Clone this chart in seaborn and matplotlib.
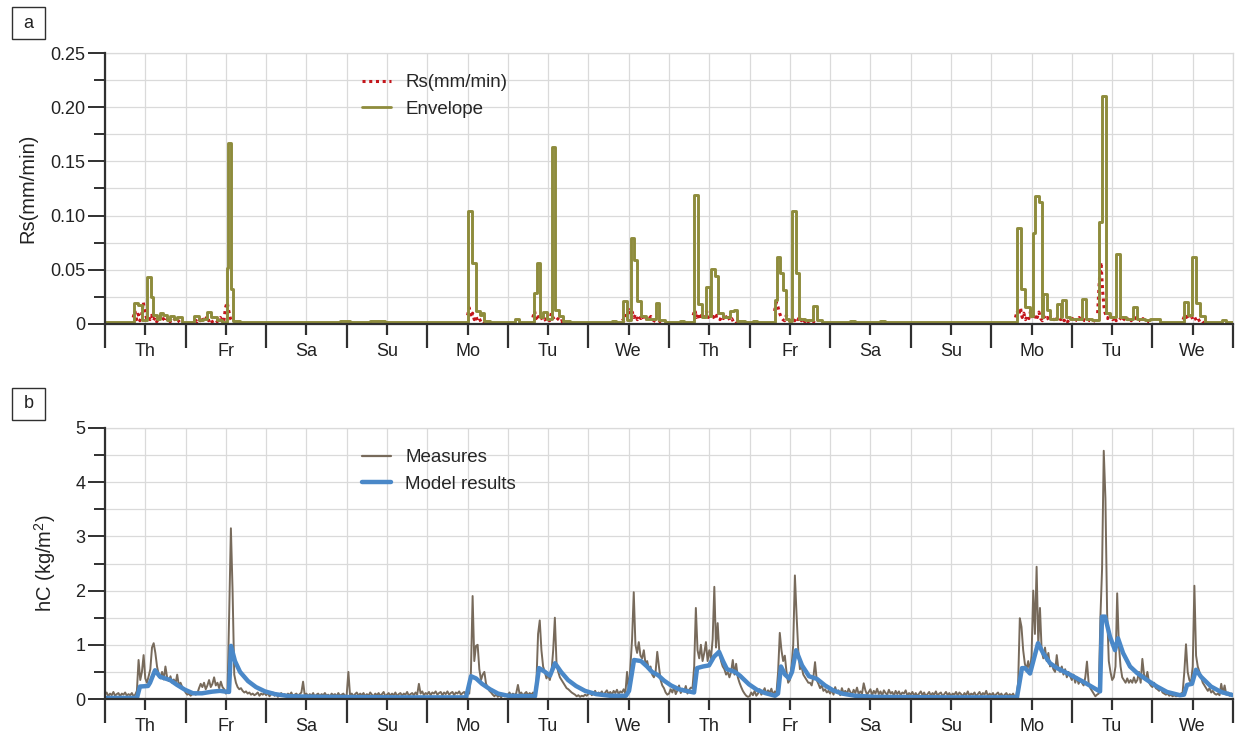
import numpy as np
import pandas as pd
import matplotlib
matplotlib.use("Agg")
import matplotlib.pyplot as plt
from matplotlib.lines import Line2D
from matplotlib.patches import Rectangle
import seaborn as sns

# ---------------------------------------------------------------- data
day_labels = ["Th", "Fr", "Sa", "Su", "Mo", "Tu", "We",
              "Th", "Fr", "Sa", "Su", "Mo", "Tu", "We"]

# Envelope of rain intensity: step starts (day) and step levels (mm/min)
env_day = [0.000, 0.360, 0.410, 0.459, 0.527, 0.565, 0.590, 0.645, 0.683, 0.720,
           0.770, 0.807, 0.856, 0.894, 0.956, 1.105, 1.167, 1.216, 1.266, 1.316,
           1.390, 1.452, 1.508, 1.527, 1.564, 1.589, 1.676, 1.924, 2.420, 2.480,
           2.917, 3.040, 3.290, 3.475, 4.505, 4.555, 4.605, 4.654, 4.673, 4.704,
           4.778, 5.089, 5.138, 5.325, 5.362, 5.399, 5.436, 5.486, 5.548, 5.591,
           5.635, 5.685, 5.771, 6.144, 6.293, 6.342, 6.429, 6.479, 6.529, 6.566,
           6.603, 6.653, 6.715, 6.839, 6.882, 6.950, 7.137, 7.186, 7.311, 7.360,
           7.410, 7.460, 7.503, 7.522, 7.565, 7.614, 7.670, 7.757, 7.807, 7.850,
           7.943, 8.043, 8.092, 8.316, 8.341, 8.378, 8.415, 8.453, 8.490, 8.527,
           8.577, 8.614, 8.688, 8.788, 8.831, 8.899, 9.247, 9.309, 9.619, 9.681,
           10.339, 10.488, 11.319, 11.369, 11.419, 11.481, 11.518, 11.543, 11.586, 11.630,
           11.642, 11.692, 11.729, 11.816, 11.866, 11.878, 11.928, 11.977, 12.126, 12.176,
           12.250, 12.337, 12.374, 12.424, 12.473, 12.548, 12.598, 12.672, 12.759, 12.809,
           12.908, 12.970, 13.094, 13.392, 13.442, 13.491, 13.541, 13.591, 13.653, 13.864,
           13.914, 14.000]
env_val = [0.0015, 0.019, 0.0175, 0.004, 0.043, 0.025, 0.008, 0.005, 0.010, 0.008,
           0.004, 0.007, 0.005, 0.006, 0.002, 0.007, 0.004, 0.005, 0.011, 0.006,
           0.004, 0.002, 0.052, 0.167, 0.032, 0.003, 0.002, 0.0015, 0.002, 0.0015,
           0.003, 0.0015, 0.0025, 0.0015, 0.104, 0.056, 0.012, 0.008, 0.010, 0.003,
           0.0015, 0.005, 0.002, 0.029, 0.056, 0.006, 0.011, 0.005, 0.163, 0.013,
           0.007, 0.003, 0.0015, 0.002, 0.003, 0.002, 0.021, 0.004, 0.079, 0.059,
           0.021, 0.007, 0.005, 0.019, 0.004, 0.002, 0.003, 0.0015, 0.119, 0.018,
           0.006, 0.034, 0.007, 0.0505, 0.044, 0.010, 0.006, 0.012, 0.013, 0.003,
           0.0015, 0.003, 0.0015, 0.022, 0.062, 0.047, 0.031, 0.005, 0.003, 0.104,
           0.047, 0.005, 0.004, 0.017, 0.004, 0.002, 0.003, 0.0015, 0.003, 0.0015,
           0.002, 0.0015, 0.0886, 0.032, 0.016, 0.007, 0.084, 0.118, 0.1125, 0.006,
           0.028, 0.013, 0.005, 0.018, 0.006, 0.022, 0.006, 0.005, 0.023, 0.005,
           0.004, 0.094, 0.2106, 0.010, 0.006, 0.0645, 0.006, 0.005, 0.016, 0.005,
           0.004, 0.005, 0.002, 0.020, 0.008, 0.062, 0.0195, 0.007, 0.002, 0.004,
           0.002, 0.002]

# Rain intensity Rs (mm/min) per rain event, half-hourly from the event start
rs_start_day = [0.35, 1.12, 4.50, 5.31, 6.42, 7.30, 8.31, 11.30, 12.32, 13.38]
rs_values = [
    [0.006, 0.012, 0.004, 0.009, 0.003, 0.008, 0.020, 0.011, 0.005, 0.007, 0.004, 0.008,
     0.003, 0.006, 0.002, 0.005, 0.007, 0.003, 0.005, 0.002, 0.004, 0.006, 0.002, 0.004,
     0.003, 0.005, 0.002, 0.003, 0.001],
    [0.004, 0.002, 0.005, 0.003, 0.006, 0.002, 0.004, 0.007, 0.003, 0.005, 0.002, 0.003,
     0.001, 0.002, 0.004, 0.006, 0.003, 0.002, 0.015, 0.020, 0.012, 0.005, 0.002],
    [0.008, 0.015, 0.006, 0.010, 0.004, 0.007, 0.003, 0.005, 0.002, 0.003, 0.001],
    [0.006, 0.012, 0.005, 0.009, 0.004, 0.006, 0.003, 0.005, 0.002, 0.004, 0.003, 0.010,
     0.006, 0.004, 0.003, 0.005, 0.002, 0.003, 0.001],
    [0.005, 0.003, 0.006, 0.012, 0.015, 0.008, 0.011, 0.006, 0.009, 0.004, 0.007, 0.005,
     0.008, 0.004, 0.006, 0.003, 0.005, 0.007, 0.004, 0.003, 0.002, 0.001, 0.002, 0.001],
    [0.008, 0.013, 0.006, 0.010, 0.005, 0.008, 0.004, 0.009, 0.012, 0.006, 0.010, 0.005,
     0.007, 0.004, 0.008, 0.006, 0.004, 0.007, 0.005, 0.009, 0.004, 0.006, 0.003, 0.005,
     0.002, 0.003, 0.001],
    [0.012, 0.020, 0.016, 0.010, 0.006, 0.004, 0.003, 0.008, 0.005, 0.003, 0.002, 0.004,
     0.003, 0.006, 0.004, 0.007, 0.003, 0.005, 0.002, 0.004, 0.002, 0.003, 0.001, 0.002,
     0.001, 0.001],
    [0.006, 0.012, 0.008, 0.015, 0.006, 0.010, 0.004, 0.008, 0.005, 0.012, 0.007, 0.004,
     0.009, 0.006, 0.011, 0.005, 0.003, 0.007, 0.004, 0.006, 0.003, 0.008, 0.005, 0.004,
     0.007, 0.003, 0.005, 0.004, 0.006, 0.003, 0.005, 0.002, 0.004, 0.003, 0.005, 0.002,
     0.004, 0.003, 0.006, 0.003, 0.002, 0.004, 0.003, 0.002, 0.004, 0.003, 0.002, 0.003],
    [0.010, 0.040, 0.057, 0.030, 0.012, 0.008, 0.005, 0.010, 0.006, 0.004, 0.007, 0.003,
     0.005, 0.004, 0.006, 0.003, 0.005, 0.007, 0.004, 0.006, 0.003, 0.005, 0.004, 0.006,
     0.003, 0.004, 0.002, 0.005, 0.003, 0.002, 0.003, 0.001, 0.002],
    [0.004, 0.008, 0.006, 0.010, 0.005, 0.007, 0.004, 0.006, 0.003, 0.005, 0.002, 0.003,
     0.001, 0.002],
]

# Measured hC (kg/m2), half-hourly over the 14 days
hc_measured = [
    # Th
    0.08, 0.12, 0.05, 0.10, 0.07, 0.13, 0.06, 0.09,
    0.11, 0.05, 0.10, 0.08, 0.12, 0.06, 0.09, 0.07,
    0.11, 0.05, 0.08, 0.15, 0.72, 0.35, 0.50, 0.81,
    0.38, 0.30, 0.42, 0.55, 0.95, 1.03, 0.85, 0.60,
    0.45, 0.38, 0.50, 0.36, 0.60, 0.40, 0.33, 0.42,
    0.30, 0.36, 0.28, 0.45, 0.25, 0.30, 0.22, 0.18,
    # Fr
    0.12, 0.08, 0.10, 0.06, 0.09, 0.12, 0.08, 0.10,
    0.20, 0.28, 0.22, 0.30, 0.18, 0.25, 0.35, 0.22,
    0.28, 0.40, 0.25, 0.30, 0.20, 0.32, 0.22, 0.18,
    0.10, 0.15, 1.60, 3.15, 2.00, 0.45, 0.30, 0.22,
    0.18, 0.20, 0.15, 0.12, 0.14, 0.10, 0.12, 0.08,
    0.10, 0.07, 0.09, 0.12, 0.06, 0.10, 0.08, 0.11,
    # Sa
    0.07, 0.11, 0.05, 0.09, 0.12, 0.06, 0.10, 0.04,
    0.08, 0.11, 0.06, 0.09, 0.05, 0.10, 0.07, 0.12,
    0.05, 0.08, 0.10, 0.06, 0.09, 0.12, 0.32, 0.07,
    0.10, 0.05, 0.09, 0.06, 0.11, 0.04, 0.08, 0.10,
    0.05, 0.09, 0.07, 0.11, 0.06, 0.08, 0.04, 0.10,
    0.07, 0.09, 0.05, 0.11, 0.06, 0.08, 0.10, 0.05,
    # Su
    0.08, 0.50, 0.06, 0.10, 0.05, 0.09, 0.12, 0.06,
    0.10, 0.07, 0.11, 0.05, 0.09, 0.06, 0.12, 0.08,
    0.05, 0.10, 0.07, 0.11, 0.06, 0.09, 0.13, 0.05,
    0.08, 0.11, 0.06, 0.10, 0.07, 0.12, 0.05, 0.09,
    0.11, 0.06, 0.10, 0.08, 0.13, 0.06, 0.09, 0.11,
    0.07, 0.12, 0.08, 0.28, 0.10, 0.14, 0.07, 0.11,
    # Mo
    0.09, 0.13, 0.07, 0.12, 0.10, 0.14, 0.08, 0.11,
    0.13, 0.07, 0.12, 0.09, 0.14, 0.08, 0.11, 0.13,
    0.07, 0.12, 0.10, 0.14, 0.08, 0.11, 0.13, 0.07,
    0.12, 0.10, 0.50, 1.90, 0.70, 0.98, 1.00, 0.55,
    0.35, 0.45, 0.50, 0.28, 0.22, 0.15, 0.12, 0.08,
    0.05, 0.09, 0.04, 0.07, 0.03, 0.08, 0.05, 0.06,
    # Tu
    0.08, 0.12, 0.06, 0.10, 0.07, 0.11, 0.26, 0.09,
    0.12, 0.06, 0.10, 0.13, 0.07, 0.11, 0.08, 0.12,
    0.10, 0.30, 1.20, 1.45, 0.90, 0.60, 0.50, 0.38,
    0.45, 0.35, 0.50, 0.90, 1.50, 0.65, 0.50, 0.40,
    0.35, 0.30, 0.25, 0.20, 0.18, 0.15, 0.12, 0.10,
    0.08, 0.05, 0.07, 0.04, 0.06, 0.05, 0.08, 0.06,
    # We
    0.09, 0.13, 0.07, 0.11, 0.15, 0.08, 0.12, 0.10,
    0.14, 0.07, 0.12, 0.16, 0.09, 0.13, 0.08, 0.15,
    0.11, 0.17, 0.09, 0.14, 0.12, 0.18, 0.10, 0.50,
    0.15, 0.60, 1.10, 1.97, 1.00, 0.85, 1.05, 0.80,
    0.75, 0.90, 0.65, 0.70, 0.55, 0.60, 0.45, 0.40,
    0.50, 0.87, 0.60, 0.35, 0.25, 0.20, 0.12, 0.08,
    # Th
    0.10, 0.18, 0.12, 0.22, 0.09, 0.16, 0.25, 0.11,
    0.19, 0.14, 0.24, 0.10, 0.17, 0.21, 0.20, 0.60,
    1.68, 0.90, 0.75, 1.00, 0.70, 0.85, 1.05, 0.70,
    0.90, 0.75, 1.10, 2.07, 0.95, 1.40, 0.85, 0.70,
    0.60, 0.55, 0.45, 0.50, 0.40, 0.50, 0.72, 0.45,
    0.65, 0.40, 0.30, 0.22, 0.15, 0.10, 0.06, 0.04,
    # Fr
    0.05, 0.12, 0.07, 0.15, 0.06, 0.10, 0.18, 0.08,
    0.13, 0.20, 0.09, 0.16, 0.11, 0.19, 0.07, 0.14,
    0.10, 0.50, 1.22, 0.90, 0.70, 0.80, 0.50, 0.30,
    0.35, 0.60, 1.00, 2.28, 1.55, 0.90, 0.55, 0.60,
    0.45, 0.40, 0.35, 0.30, 0.30, 0.25, 0.40, 0.68,
    0.35, 0.28, 0.20, 0.25, 0.15, 0.18, 0.12, 0.15,
    # Sa
    0.10, 0.18, 0.08, 0.22, 0.12, 0.16, 0.07, 0.20,
    0.11, 0.15, 0.09, 0.19, 0.13, 0.08, 0.17, 0.11,
    0.21, 0.09, 0.14, 0.10, 0.29, 0.16, 0.08, 0.13,
    0.18, 0.07, 0.15, 0.10, 0.19, 0.09, 0.14, 0.06,
    0.16, 0.11, 0.08, 0.17, 0.10, 0.13, 0.06, 0.15,
    0.09, 0.14, 0.07, 0.12, 0.10, 0.16, 0.06, 0.11,
    # Su
    0.08, 0.13, 0.06, 0.11, 0.05, 0.10, 0.14, 0.07,
    0.12, 0.05, 0.09, 0.13, 0.06, 0.11, 0.08, 0.14,
    0.06, 0.10, 0.12, 0.05, 0.09, 0.13, 0.07, 0.11,
    0.05, 0.10, 0.08, 0.13, 0.06, 0.12, 0.09, 0.05,
    0.11, 0.07, 0.14, 0.06, 0.10, 0.08, 0.12, 0.05,
    0.09, 0.13, 0.06, 0.11, 0.08, 0.15, 0.05, 0.10,
    # Mo
    0.07, 0.11, 0.05, 0.09, 0.12, 0.06, 0.10, 0.04,
    0.08, 0.11, 0.05, 0.09, 0.06, 0.10, 0.04, 0.07,
    0.30, 1.49, 1.33, 0.90, 0.65, 0.55, 0.70, 0.50,
    0.80, 2.00, 1.20, 2.44, 1.00, 1.68, 0.90, 0.75,
    0.95, 0.70, 0.85, 0.60, 0.65, 0.55, 0.50, 0.81,
    0.55, 0.50, 0.60, 0.45, 0.55, 0.40, 0.50, 0.42,
    # Tu
    0.35, 0.45, 0.30, 0.40, 0.28, 0.35, 0.30, 0.25,
    0.40, 0.69, 0.30, 0.20, 0.15, 0.10, 0.05, 0.08,
    0.10, 1.50, 2.40, 4.58, 3.70, 1.60, 0.70, 0.50,
    0.35, 0.40, 0.60, 1.95, 1.00, 0.60, 0.40, 0.35,
    0.30, 0.38, 0.30, 0.35, 0.30, 0.40, 0.30, 0.35,
    0.50, 0.30, 0.74, 0.45, 0.35, 0.50, 0.30, 0.25,
    # We
    0.22, 0.30, 0.20, 0.18, 0.15, 0.20, 0.12, 0.10,
    0.08, 0.10, 0.06, 0.08, 0.05, 0.07, 0.05, 0.06,
    0.08, 0.10, 0.12, 0.50, 1.01, 0.50, 0.35, 0.30,
    0.60, 2.09, 0.80, 0.60, 0.50, 0.40, 0.30, 0.25,
    0.20, 0.15, 0.20, 0.12, 0.15, 0.10, 0.08, 0.10,
    0.07, 0.28, 0.10, 0.25, 0.08, 0.12, 0.06, 0.10,
]
assert len(hc_measured) == 14 * 48

# Modelled hC (kg/m2): vertices of the simulated curve
model_day = [0.000, 0.397, 0.434, 0.534, 0.559, 0.621, 0.683, 0.807, 0.894, 0.993,
             1.092, 1.204, 1.328, 1.427, 1.502, 1.539, 1.564, 1.613, 1.676, 1.775,
             1.874, 1.986, 2.110, 2.296, 2.669, 3.661, 4.481, 4.543, 4.605, 4.679,
             4.778, 4.878, 5.002, 5.337, 5.387, 5.461, 5.523, 5.585, 5.660, 5.747,
             5.846, 5.958, 6.094, 6.268, 6.466, 6.504, 6.566, 6.653, 6.727, 6.789,
             6.864, 6.938, 7.025, 7.124, 7.211, 7.311, 7.348, 7.422, 7.497, 7.559,
             7.621, 7.670, 7.720, 7.819, 7.881, 7.993, 8.092, 8.192, 8.316, 8.353,
             8.390, 8.440, 8.490, 8.527, 8.577, 8.651, 8.738, 8.837, 8.937, 9.036,
             9.148, 9.309, 9.557, 10.488, 11.319, 11.381, 11.419, 11.481, 11.580, 11.642,
             11.729, 11.816, 11.977, 12.139, 12.312, 12.350, 12.374, 12.412, 12.473, 12.536,
             12.573, 12.635, 12.722, 12.809, 12.933, 13.057, 13.181, 13.342, 13.392, 13.430,
             13.491, 13.541, 13.603, 13.727, 13.851, 14.000]
model_hc = [0.02, 0.02, 0.23, 0.24, 0.30, 0.53, 0.41, 0.35, 0.26, 0.17,
            0.105, 0.105, 0.135, 0.15, 0.135, 0.13, 0.98, 0.70, 0.50, 0.33,
            0.22, 0.14, 0.09, 0.05, 0.04, 0.03, 0.03, 0.42, 0.38, 0.28,
            0.18, 0.10, 0.06, 0.05, 0.57, 0.50, 0.43, 0.66, 0.50, 0.35,
            0.24, 0.15, 0.09, 0.06, 0.06, 0.15, 0.72, 0.70, 0.60, 0.50,
            0.44, 0.34, 0.25, 0.18, 0.15, 0.12, 0.57, 0.60, 0.62, 0.78,
            0.87, 0.70, 0.55, 0.50, 0.43, 0.27, 0.17, 0.11, 0.06, 0.10,
            0.60, 0.45, 0.38, 0.50, 0.90, 0.62, 0.42, 0.37, 0.25, 0.16,
            0.10, 0.06, 0.04, 0.03, 0.03, 0.57, 0.57, 0.47, 1.03, 0.85,
            0.66, 0.57, 0.45, 0.32, 0.17, 0.14, 1.52, 1.52, 1.15, 0.90,
            1.12, 0.85, 0.60, 0.48, 0.35, 0.23, 0.13, 0.07, 0.08, 0.26,
            0.28, 0.54, 0.41, 0.23, 0.13, 0.07]

# ---------------------------------------------------------------- frames
env_df = pd.DataFrame({"day": env_day, "rs": env_val})
rs_df = pd.concat(
    [pd.DataFrame({"day": start + np.arange(len(vals)) / 48.0,
                   "rs": vals, "event": k})
     for k, (start, vals) in enumerate(zip(rs_start_day, rs_values))],
    ignore_index=True)
meas_df = pd.DataFrame({"day": np.arange(len(hc_measured)) / 48.0, "hc": hc_measured})
model_df = pd.DataFrame({"day": model_day, "hc": model_hc})

# ---------------------------------------------------------------- style
sns.set_theme(style="white")
plt.rcParams["font.family"] = ["Liberation Sans", "DejaVu Sans"]
plt.rcParams["mathtext.fontset"] = "custom"
plt.rcParams["mathtext.rm"] = "Liberation Sans"

C_RED = "#c4161c"
C_ENV = "#8e8c3c"
C_MEAS = "#776a5b"
C_MODEL = "#4a88c8"
C_GRID = "#dadada"
C_AXIS = "#303030"
FS = 13
FS_LAB = 14.5

W, H = 1243, 740
fig = plt.figure(figsize=(W / 100, H / 100), dpi=100)
ax_a = fig.add_axes([105 / W, 1 - 324 / H, 1128 / W, 271 / H])
ax_b = fig.add_axes([105 / W, 1 - 699 / H, 1128 / W, 271 / H])

# Panel a: rain intensity and its envelope
sns.lineplot(data=rs_df, x="day", y="rs", units="event", estimator=None,
             color=C_RED, lw=2.2, linestyle=(0, (1, 1.2)), ax=ax_a, zorder=3)
sns.lineplot(data=env_df, x="day", y="rs", estimator=None, sort=False,
             drawstyle="steps-post", color=C_ENV, lw=2.1, ax=ax_a, zorder=4)

# Panel b: measured and modelled hC
sns.lineplot(data=meas_df, x="day", y="hc", estimator=None, color=C_MEAS,
             lw=1.4, ax=ax_b, zorder=3)
sns.lineplot(data=model_df, x="day", y="hc", estimator=None, color=C_MODEL,
             lw=3.2, ax=ax_b, zorder=4)

for ax in (ax_a, ax_b):
    ax.set_xlim(0, 14)
    ax.set_xlabel("")
    ax.set_xticks(np.arange(0, 15, 1))
    ax.set_xticklabels([])
    ax.set_xticks(np.arange(0.5, 14, 1), minor=True)
    ax.set_xticklabels(day_labels, minor=True, fontsize=FS, color="#222222")
    ax.tick_params(axis="x", which="major", length=17, width=1.6,
                   color=C_AXIS, direction="out", bottom=True)
    ax.tick_params(axis="x", which="minor", length=8, width=1.6,
                   color=C_AXIS, direction="out", pad=5.5, bottom=True)
    ax.tick_params(axis="y", which="major", length=12, width=1.4,
                   color=C_AXIS, direction="out", left=True, labelsize=FS,
                   labelcolor="#222222", pad=2)
    ax.tick_params(axis="y", which="minor", length=8, width=1.4,
                   color=C_AXIS, direction="out", left=True)
    ax.grid(True, which="both", color=C_GRID, lw=0.9)
    ax.set_axisbelow(True)
    for s in ("left", "bottom"):
        ax.spines[s].set_color(C_AXIS)
        ax.spines[s].set_linewidth(1.6)
        ax.spines[s].set_zorder(5)
    for s in ("top", "right"):
        ax.spines[s].set_color(C_GRID)
        ax.spines[s].set_linewidth(0.9)

ax_a.set_ylim(0, 0.25)
ax_a.set_yticks([0, 0.05, 0.10, 0.15, 0.20, 0.25])
ax_a.set_yticklabels(["0", "0.05", "0.10", "0.15", "0.20", "0.25"])
ax_a.set_yticks(np.arange(0.025, 0.25, 0.05), minor=True)
ax_a.set_ylabel("Rs(mm/min)", fontsize=FS_LAB, color="#222222", va="center")
ax_a.yaxis.set_label_coords((28 - 105) / 1128, 0.5)

ax_b.set_ylim(0, 5)
ax_b.set_yticks([0, 1, 2, 3, 4, 5])
ax_b.set_yticklabels(["0", "1", "2", "3", "4", "5"])
ax_b.set_yticks(np.arange(0.5, 5, 1), minor=True)
ax_b.set_ylabel("hC (kg/m$^2$)", fontsize=FS_LAB, color="#222222", va="center")
ax_b.yaxis.set_label_coords((45 - 105) / 1128, 0.5)

# Legends
leg_kw = dict(loc="upper left", frameon=False, fontsize=13.5, handlelength=1.55,
              handletextpad=0.75, labelspacing=0.5, borderaxespad=0, borderpad=0)
ax_a.legend(handles=[Line2D([], [], color=C_RED, lw=2.2, linestyle=(0, (1, 1.2))),
                     Line2D([], [], color=C_ENV, lw=2.0)],
            labels=["Rs(mm/min)", "Envelope"],
            bbox_to_anchor=((362 - 105) / 1128, 1 - (74 - 53) / 271), **leg_kw)
ax_b.legend(handles=[Line2D([], [], color=C_MEAS, lw=1.6),
                     Line2D([], [], color=C_MODEL, lw=3.2)],
            labels=["Measures", "Model results"],
            bbox_to_anchor=((362 - 105) / 1128, 1 - (449 - 428) / 271), **leg_kw)

# Panel letters in boxes
for letter, top in (("a", 7), ("b", 388)):
    fig.add_artist(Rectangle((12 / W, 1 - (top + 32) / H), 33 / W, 32 / H,
                             transform=fig.transFigure, fill=False,
                             lw=1.0, ec=C_AXIS))
    fig.text(28.5 / W, 1 - (top + 16) / H, letter, ha="center", va="center",
             fontsize=FS, color="#222222")

fig.savefig("out.png", dpi=100)
